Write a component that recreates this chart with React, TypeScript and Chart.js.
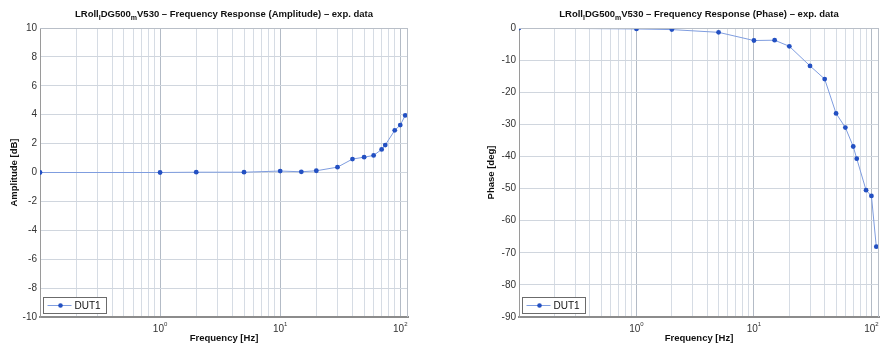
import React, { useEffect, useRef } from 'react';
import { Chart, registerables } from 'chart.js';

Chart.register(...registerables);

// ---- data ----
const frequenciesHz = [0.1, 1, 2, 5, 10, 15, 20, 30, 40, 50, 60, 70, 75, 90, 100, 110];
const amplitudeDb = [0, 0, 0.02, 0.02, 0.1, 0.05, 0.12, 0.37, 0.93, 1.06, 1.18, 1.6, 1.9, 2.92, 3.28, 3.95];
const phaseDeg = [0, -0.3, -0.5, -1.35, -3.9, -3.8, -5.7, -11.8, -15.9, -26.6, -31, -36.9, -40.7, -50.5, -52.3, -68.1];
const amplitudeTicks = [-10, -8, -6, -4, -2, 0, 2, 4, 6, 8, 10];
const phaseTicks = [-90, -80, -70, -60, -50, -40, -30, -20, -10, 0];
const xMajorTicks = [1, 10, 100];
const xMajorExponents = ['0', '1', '2'];
const seriesLabel = 'DUT1';
const ampTitleTail = 'V530 \u2013 Frequency Response (Amplitude) \u2013 exp. data';
const phaseTitleTail = 'V530 \u2013 Frequency Response (Phase) \u2013 exp. data';
const xAxisTitle = 'Frequency [Hz]';
const ampAxisTitle = 'Amplitude [dB]';
const phaseAxisTitle = 'Phase [deg]';

const FONT = '"Liberation Sans", Arial, Helvetica, sans-serif';

function xGridValues(): number[] {
  const out: number[] = [];
  [0.1, 1, 10].forEach((d) => {
    for (let k = 1; k <= 9; k++) out.push(+(k * d).toPrecision(6));
  });
  out.push(100);
  return out;
}

interface PanelCfg {
  values: number[];
  yMin: number;
  yMax: number;
  yTicks: number[];
  titleTail: string;
  yTitle: string;
  width: number;
  yAxisWidth: number;
  padRight: number;
  yTitleX: number;
}

function makeChart(canvas: HTMLCanvasElement, p: PanelCfg) {
  const textPlugin = {
    id: 'matlabText',
    afterDraw(chart: any) {
      const ctx = chart.ctx as CanvasRenderingContext2D;
      const a = chart.chartArea;
      ctx.save();
      // frame (top/right)
      ctx.strokeStyle = '#b9bfc8';
      ctx.lineWidth = 1;
      ctx.beginPath();
      ctx.moveTo(a.left, a.top + 0.5);
      ctx.lineTo(a.right, a.top + 0.5);
      ctx.moveTo(a.right - 0.5, a.top);
      ctx.lineTo(a.right - 0.5, a.bottom);
      ctx.stroke();

      // title with subscripts
      const segs: [string, boolean][] = [
        ['LRoll', false],
        ['l', true],
        ['DG500', false],
        ['m', true],
        [p.titleTail, false],
      ];
      const mainFont = `bold 9.5px ${FONT}`;
      const subFont = `bold 7px ${FONT}`;
      let total = 0;
      segs.forEach(([t, sub]) => {
        ctx.font = sub ? subFont : mainFont;
        total += ctx.measureText(t).width;
      });
      let x = (a.left + a.right) / 2 - total / 2;
      const base = 17;
      ctx.fillStyle = '#111';
      ctx.textAlign = 'left';
      ctx.textBaseline = 'alphabetic';
      segs.forEach(([t, sub]) => {
        ctx.font = sub ? subFont : mainFont;
        ctx.fillText(t, x, sub ? base + 3 : base);
        x += ctx.measureText(t).width;
      });

      // x tick labels: 10 with superscript exponent
      const xs = chart.scales.x;
      xMajorTicks.forEach((v, i) => {
        const px = xs.getPixelForValue(v);
        ctx.font = `10px ${FONT}`;
        const wBase = ctx.measureText('10').width;
        ctx.font = `6px ${FONT}`;
        const wExp = ctx.measureText(xMajorExponents[i]).width;
        const start = px - (wBase + wExp) / 2;
        ctx.fillStyle = '#333';
        ctx.textAlign = 'left';
        ctx.textBaseline = 'alphabetic';
        ctx.font = `10px ${FONT}`;
        ctx.fillText('10', start, 332);
        ctx.font = `6px ${FONT}`;
        ctx.fillText(xMajorExponents[i], start + wBase, 326);
      });

      // x axis title
      ctx.fillStyle = '#111';
      ctx.font = `bold 9.5px ${FONT}`;
      ctx.textAlign = 'center';
      ctx.textBaseline = 'middle';
      ctx.fillText(xAxisTitle, (a.left + a.right) / 2, 338);

      // y axis title
      ctx.save();
      ctx.translate(p.yTitleX, (a.top + a.bottom) / 2);
      ctx.rotate(-Math.PI / 2);
      ctx.fillText(p.yTitle, 0, 0);
      ctx.restore();

      // legend box
      const ds = chart.data.datasets[0];
      const lx = a.left + 3.5;
      const ly = a.bottom - 19.5;
      const lw = 63;
      const lh = 16;
      ctx.fillStyle = '#ffffff';
      ctx.fillRect(lx, ly, lw, lh);
      ctx.strokeStyle = '#6b6b6b';
      ctx.lineWidth = 1;
      ctx.strokeRect(lx, ly, lw, lh);
      const cy = ly + lh / 2;
      ctx.strokeStyle = ds.borderColor;
      ctx.beginPath();
      ctx.moveTo(lx + 4, cy);
      ctx.lineTo(lx + 28, cy);
      ctx.stroke();
      ctx.fillStyle = ds.pointBackgroundColor;
      ctx.beginPath();
      ctx.arc(lx + 17, cy, 2.3, 0, Math.PI * 2);
      ctx.fill();
      ctx.fillStyle = '#111';
      ctx.font = `10px ${FONT}`;
      ctx.textAlign = 'left';
      ctx.fillText(ds.label, lx + 31, cy + 0.5);
      ctx.restore();
    },
  };

  const grid = xGridValues();

  return new Chart(canvas, {
    type: 'line',
    data: {
      datasets: [
        {
          label: seriesLabel,
          data: frequenciesHz.map((f, i) => ({ x: f, y: p.values[i] })),
          borderColor: '#7f9ddf',
          borderWidth: 1,
          pointRadius: 2.4,
          pointBackgroundColor: '#2350c2',
          pointBorderColor: '#2350c2',
          pointBorderWidth: 0,
          tension: 0,
        },
      ],
    },
    options: {
      responsive: false,
      animation: false,
      layout: { padding: { left: 0, right: p.padRight, top: 28, bottom: 0 } },
      plugins: {
        legend: { display: false },
        title: { display: false },
        tooltip: { enabled: false },
      },
      scales: {
        x: {
          type: 'logarithmic',
          min: 0.1,
          max: 116,
          afterBuildTicks: (s: any) => {
            s.ticks = grid.map((v) => ({ value: v, major: xMajorTicks.includes(v) }));
          },
          afterFit: (s: any) => {
            s.height = 32;
            s.paddingLeft = 0;
            s.paddingRight = 0;
          },
          ticks: {
            autoSkip: false,
            maxRotation: 0,
            minRotation: 0,
            padding: 5,
            color: '#333',
            font: { family: FONT, size: 10 },
            callback: () => '',
          },
          grid: {
            drawTicks: false,
            color: (c: any) =>
              c.tick && xMajorTicks.includes(c.tick.value) ? '#b3bbc6' : '#d6dce4',
            lineWidth: 1,
          },
          border: { color: '#8c8c8c', width: 2 },
        },
        y: {
          type: 'linear',
          min: p.yMin,
          max: p.yMax,
          afterBuildTicks: (s: any) => {
            s.ticks = p.yTicks.map((v) => ({ value: v }));
          },
          afterFit: (s: any) => {
            s.width = p.yAxisWidth;
            s.paddingTop = 0;
            s.paddingBottom = 0;
          },
          ticks: {
            autoSkip: false,
            padding: 3,
            color: '#333',
            font: { family: FONT, size: 10 },
          },
          grid: { drawTicks: false, color: '#d0d6de', lineWidth: 1 },
          border: { color: '#9a9a9a', width: 1 },
        },
      },
    },
    plugins: [textPlugin],
  } as any);
}

function Panel(props: PanelCfg) {
  const ref = useRef<HTMLCanvasElement | null>(null);
  useEffect(() => {
    if (!ref.current) return;
    const c = makeChart(ref.current, props);
    return () => c.destroy();
  }, []);
  return (
    <canvas
      ref={ref}
      width={props.width}
      height={349}
      style={{ display: 'block', width: props.width, height: 349 }}
    />
  );
}

export default function App() {
  return (
    <div
      style={{
        position: 'absolute',
        left: 0,
        top: 0,
        width: 883,
        height: 349,
        overflow: 'hidden',
        display: 'flex',
        background: '#fff',
      }}
    >
      <Panel
        values={amplitudeDb}
        yMin={-10}
        yMax={10}
        yTicks={amplitudeTicks}
        titleTail={ampTitleTail}
        yTitle={ampAxisTitle}
        width={441}
        yAxisWidth={40}
        padRight={33}
        yTitleX={14}
      />
      <Panel
        values={phaseDeg}
        yMin={-90}
        yMax={0}
        yTicks={phaseTicks}
        titleTail={phaseTitleTail}
        yTitle={phaseAxisTitle}
        width={442}
        yAxisWidth={78}
        padRight={0}
        yTitleX={50}
      />
    </div>
  );
}
